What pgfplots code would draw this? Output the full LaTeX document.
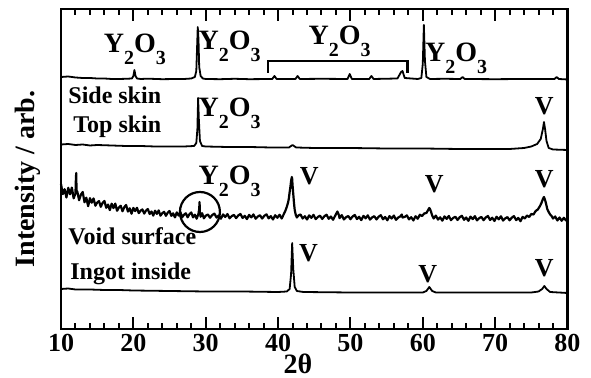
\documentclass[border=0pt]{standalone}
\usepackage{pgfplots}
\pgfplotsset{compat=1.18}
\usepackage{fontspec}
\setmainfont{Liberation Serif}
\newcommand{\yo}{{\fontsize{14}{14}\selectfont\bfseries Y\raisebox{-0.4em}{\fontsize{10}{10}\selectfont 2}O\raisebox{-0.4em}{\fontsize{10}{10}\selectfont 3}}}
\newcommand{\vv}{{\fontsize{13}{13}\selectfont\bfseries V}}
\begin{document}
\begin{tikzpicture}
\begin{axis}[name=ax, scale only axis, width=253.25pt, height=160pt,
  xmin=10, xmax=80, ymin=0, ymax=320,
  xtick={10,20,30,40,50,60,70,80},
  xticklabels={10,20,30,40,50,60,70,80},
  minor x tick num=4, ytick=\empty,
  tick align=inside, major tick length=6pt, minor tick length=3pt,
  axis line style={line width=1.3pt},
  major tick style={black, line width=1pt},
  minor tick style={black, line width=1pt},
  xticklabel style={font=\fontsize{13}{13}\selectfont\bfseries, inner sep=0pt, yshift=-2.5pt},
  clip=false]
% Side skin
\addplot[black, line width=0.9pt, line join=round] coordinates {
(10,252) (11,252.5) (12,251.5) (13,251) (14,251) (15,250.5) (16,250.5) (17,250) (18,250) (19,250.2) (19.8,250.5) (20.0,253) (20.15,259) (20.3,253) (20.5,250.5) (21,250) (22,250.3) (24,249.8) (26,250) (27,250) (28,250.5) (28.5,252) (28.7,258) (28.8,280) (28.9,302) (29.0,290) (29.1,262) (29.3,253) (29.6,250.5) (30,250) (32,249.8) (34,250.2) (36,249.8) (39.2,250) (39.5,253) (39.8,250) (42.4,250) (42.7,253) (43,250) (46,250.2) (49.6,250) (49.9,255) (50.2,250) (52.6,250) (52.9,253) (53.2,250) (56.5,250.5) (57.0,257) (57.2,258) (57.5,251) (59.3,250) (59.8,251) (60.0,265) (60.15,304) (60.3,268) (60.5,252) (61,250) (63,250.2) (65.2,250) (65.5,252) (65.8,250) (70,249.8) (74,250) (78.2,250) (78.5,252) (78.8,250) (80,249.5)};
% Top skin
\addplot[black, line width=0.9pt, line join=round] coordinates {
(10,184.5) (11,185) (12,184) (13,184.5) (14,183.5) (15,184) (17,183.5) (19,183) (21,183) (23,182.5) (25,182.5) (27,182.5) (28.4,183) (28.7,186) (28.85,200) (28.95,231) (29.05,210) (29.2,188) (29.5,183) (30,182.5) (33,182) (36,182) (39,181.5) (41.5,181.5) (42,184) (42.5,181.5) (45,181) (50,181) (55,180.5) (60,180.5) (65,180) (70,180) (72,180) (74,181) (75,182.5) (75.8,185) (76.3,190) (76.6,200) (76.75,207) (76.9,200) (77.1,188) (77.4,181) (78,179.5) (80,179)};
% Void surface
\addplot[black, line width=1.1pt, line join=round] coordinates {
(10.00,145) (10.25,134.9) (10.5,139.8) (10.75,131.5) (11.0,141.2) (11.25,134.7) (11.5,141.4) (11.75,130.7) (12.0,135.6) (12.05,148) (12.1,156) (12.15,138) (12.25,137.6) (12.5,128.8) (12.75,134.4) (13.0,137) (13.25,126.7) (13.5,131.3) (13.75,122.8) (14.0,130.8) (14.25,126.3) (14.5,130.6) (14.75,123.3) (15.0,126.4) (15.25,127.9) (15.5,122.2) (15.75,126.1) (16.0,128) (16.25,121.2) (16.5,124.4) (16.75,118.9) (17.0,125.3) (17.25,120.9) (17.5,125.4) (17.75,118.2) (18.0,121.4) (18.25,123.2) (18.5,117.7) (18.75,121.9) (19.0,124) (19.25,117.4) (19.5,120.7) (19.75,115.3) (20.0,121.1) (20.25,117.85) (20.5,121.2) (20.75,115.85) (21.0,118.3) (21.25,119.55) (21.5,115.4) (21.75,118.45) (22.0,120) (22.25,115) (22.5,117.5) (22.75,113.4) (23.0,118.3) (23.25,115.1) (23.5,118.6) (23.75,113.3) (24.0,115.8) (24.25,117.2) (24.5,113.15) (24.75,116.3) (25.0,118) (25.25,113.1) (25.5,115.65) (25.75,111.6) (26.0,116.6) (26.25,113.5) (26.5,116.95) (26.75,111.7) (27.0,114.3) (27.25,115.7) (27.5,111.65) (27.75,114.8) (28.0,116.5) (28.25,111.6) (28.5,114.3) (28.75,110.3) (29.0,115.3) (29.1,120) (29.15,127) (29.2,116) (29.3,112.3) (29.5,115.8) (29.75,110.65) (30.0,113.3)
(30.3,114.5) (30.6,111.25) (30.9,113.95) (31.2,115.4) (31.5,111.4) (31.8,113.6) (32.1,110.3) (32.4,114.55) (32.7,112) (33.0,114.95) (33.3,110.7) (33.6,112.9) (33.9,114.1) (34.2,110.85) (34.5,113.55) (34.8,115) (35.1,111) (35.4,113.2) (35.7,109.9) (36.0,114.15) (36.3,111.6) (36.6,114.55) (36.9,110.3) (37.2,112.5) (37.5,113.75) (37.8,110.45) (38.1,113.2) (38.4,114.65) (38.7,110.6) (39.0,112.85) (39.3,109.55) (39.6,113.75) (39.9,111.25) (40.2,114.25) (40.5,110.5)
(40.8,115) (41.0,118) (41.2,122) (41.4,127) (41.5,131) (41.6,137) (41.7,142) (41.8,148) (41.9,152) (41.95,150) (42.0,144) (42.1,135) (42.2,126) (42.3,119) (42.45,114) (42.6,111.5) (42.8,113.5)
(43.1,114.5) (43.4,110.5) (43.7,112.75) (44.0,109.5) (44.3,113.65) (44.6,111.15) (44.9,114.15) (45.2,109.85) (45.5,112.05) (45.8,113.3) (46.1,110.05) (46.4,112.75) (46.7,114.25) (47.0,110.2) (47.3,112.45) (47.6,109.2) (47.9,113.4) (48.2,117.5) (48.4,114) (48.5,110.85) (48.8,113.85) (49.1,109.55) (49.4,111.8) (49.7,113) (50.0,109.75) (50.3,112.5) (50.6,114) (50.9,109.95) (51.2,112.2) (51.5,108.9) (51.8,113.15) (52.1,110.65) (52.4,113.65) (52.7,109.35) (53.0,111.6) (53.3,112.8) (53.6,109.55) (53.9,112.3) (54.2,113.8) (54.5,109.75) (54.8,112) (55.1,108.75) (55.4,112.95) (55.7,110.45) (56.0,113.45) (56.3,109.15) (56.6,111.4) (56.9,112.65) (57.1,114.5) (57.2,111.5) (57.5,112.1) (57.8,113.6) (58.1,109.6) (58.4,111.8) (58.7,108.55) (59.0,112.75) (59.3,110.25) (59.6,114.25)
(59.9,113) (60.2,115.5) (60.5,116) (60.7,118.5) (60.9,121) (61.0,120) (61.15,117) (61.3,113.5) (61.5,110.5)
(61.8,113.4) (62.1,109.4) (62.4,111.65) (62.7,108.35) (63.0,112.6) (63.3,110.1) (63.6,113.05) (63.9,108.8) (64.2,111.05) (64.5,112.25) (64.8,109) (65.1,111.75) (65.4,113.2) (65.7,109.2) (66.0,111.45) (66.3,108.15) (66.6,112.4) (66.9,109.9) (67.2,112.85) (67.5,108.6) (67.8,110.85) (68.1,112.05) (68.4,108.8) (68.7,111.55) (69.0,113) (69.3,109) (69.6,111.25) (69.9,108) (70.2,112.25) (70.5,109.7) (70.8,112.7) (71.1,108.45) (71.4,110.65) (71.7,111.9) (72.0,108.65) (72.3,111.35) (72.6,112.85) (72.9,108.85) (73.2,111.05) (73.5,107.8) (73.8,112.05) (74.1,110.5)
(74.4,113.5) (74.7,112) (75.0,115) (75.3,114.5) (75.6,118) (75.9,119.5) (76.2,123) (76.4,126) (76.6,130) (76.75,132) (76.9,129) (77.05,125) (77.2,120) (77.4,117) (77.6,114.5) (77.8,113) (78.0,110.5) (78.3,112.5) (78.6,108.5) (78.9,111.5) (79.2,108.2) (79.5,111.2) (79.8,108.5) (80,110)};
% Ingot inside
\addplot[black, line width=0.9pt, line join=round] coordinates {
(10,40) (11,40.5) (12,39.5) (14,39.5) (16,39) (18,39) (20,38.5) (25,38) (30,37.5) (35,37.5) (40,37) (41.2,37.5) (41.6,40) (41.8,55) (41.95,86) (42.1,60) (42.3,42) (42.6,38) (43.5,37) (50,36.5) (55,36.5) (60,36.5) (60.5,38) (60.9,42) (61.3,38) (61.8,36.5) (70,36.5) (75,36.5) (76,37.5) (76.5,40) (76.8,43) (77.1,40) (77.6,37) (80,36)};
% annotations
\draw[line width=1.3pt] (axis cs:38.6,256) -- (axis cs:38.6,268) -- (axis cs:57.9,268) -- (axis cs:57.9,256);
\draw[line width=1.1pt] (axis cs:29.2,117) circle [radius=10pt];
\node[anchor=base, inner sep=0pt] at (axis cs:20.2,276) {\yo};
\node[anchor=base, inner sep=0pt] at (axis cs:33.3,279) {\yo};
\node[anchor=base, inner sep=0pt] at (axis cs:48.5,284) {\yo};
\node[anchor=base, inner sep=0pt] at (axis cs:64.6,267) {\yo};
\node[anchor=base, inner sep=0pt] at (axis cs:33.3,212) {\yo};
\node[anchor=base, inner sep=0pt] at (axis cs:33.3,144) {\yo};
\node[anchor=base, inner sep=0pt] at (axis cs:76.8,214) {\vv};
\node[anchor=base, inner sep=0pt] at (axis cs:44.3,144) {\vv};
\node[anchor=base, inner sep=0pt] at (axis cs:61.6,136) {\vv};
\node[anchor=base, inner sep=0pt] at (axis cs:76.8,141) {\vv};
\node[anchor=base, inner sep=0pt] at (axis cs:44.2,67) {\vv};
\node[anchor=base, inner sep=0pt] at (axis cs:60.7,46) {\vv};
\node[anchor=base, inner sep=0pt] at (axis cs:76.8,52) {\vv};
\node[anchor=base west, inner sep=0pt, font=\fontsize{12}{12}\selectfont\bfseries] at (axis cs:10.97,225) {Side skin};
\node[anchor=base west, inner sep=0pt, font=\fontsize{12}{12}\selectfont\bfseries] at (axis cs:11.66,196) {Top skin};
\node[anchor=base west, inner sep=0pt, font=\fontsize{12}{12}\selectfont\bfseries] at (axis cs:10.97,84) {Void surface};
\node[anchor=base west, inner sep=0pt, font=\fontsize{12}{12}\selectfont\bfseries] at (axis cs:11.24,49) {Ingot inside};
\end{axis}
\node[rotate=90, anchor=base, inner sep=0pt, font=\fontsize{14}{14}\selectfont\bfseries] at ([xshift=-13pt, yshift=75pt]ax.south west) {Intensity / arb.};
\node[anchor=base, inner sep=0pt, font=\fontsize{14}{14}\selectfont\bfseries] at ([xshift=118.5pt, yshift=-22.5pt]ax.south west) {2θ};
\pgfresetboundingbox
\path ([xshift=-30.5pt, yshift=-24.25pt]ax.south west) rectangle ([xshift=11.75pt, yshift=4.5pt]ax.north east);
\end{tikzpicture}
\end{document}
